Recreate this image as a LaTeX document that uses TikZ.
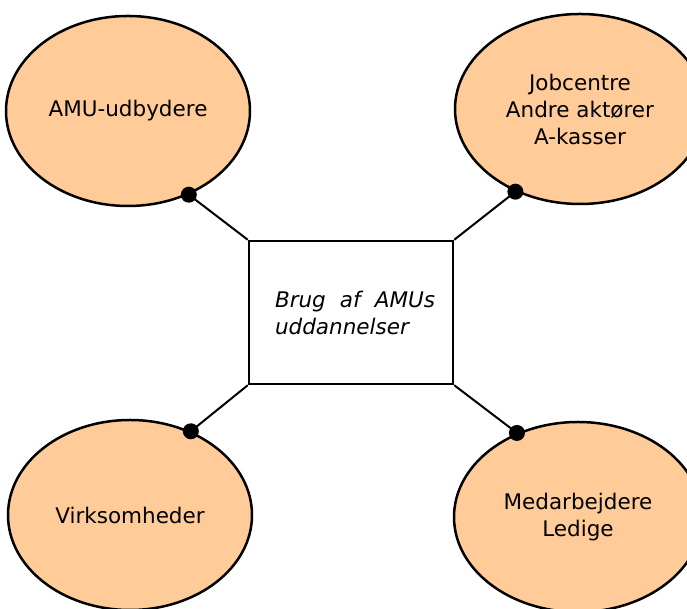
\documentclass[tikz,border=0pt]{standalone}
\usepackage{fontspec}
\setmainfont{DejaVu Sans}
\usetikzlibrary{shapes.geometric}
\definecolor{peach}{RGB}{255,204,153}
\tikzset{
  actor/.style={ellipse, draw, line width=2.5pt, fill=peach, minimum width=244pt, minimum height=190pt, inner sep=0pt, align=center, font=\fontsize{21.5}{27}\selectfont},
  link/.style={line width=2pt},
  knob/.style={circle, fill=black, minimum size=16pt, inner sep=0pt}
}
\begin{document}
\begin{tikzpicture}[x=1pt,y=1pt]
        \useasboundingbox (0,0) rectangle (687,609);
        \node[actor] (amu) at (128,498) {AMU-udbydere};
        \node[actor, minimum width=250pt] (job) at (580,500) {Jobcentre\\Andre aktører\\A-kasser};
        \node[actor] (virk) at (130,94) {Virksomheder};
        \node[actor, minimum width=248pt] (med) at (578,92) {Medarbejdere\\Ledige};
        \node[draw, line width=2.5pt, fill=white, minimum width=204pt, minimum height=143pt] (brug) at (351,296.5) {};
        \node[text width=160pt, align=justify, font=\fontsize{21.5}{27}\selectfont\itshape] (brugtxt) at (355,296.5) {Brug af AMUs uddannelser};
        \draw[link] (amu.-54) -- (brug.north west);
        \draw[link] (job.-128) -- (brug.north east);
        \draw[link] (virk.54) -- (brug.south west);
        \draw[link] (med.126) -- (brug.south east);
        \node[knob] (k1) at (amu.-54) {};
        \node[knob] (k2) at (job.-128) {};
        \node[knob] (k3) at (virk.54) {};
        \node[knob] (k4) at (med.126) {};
    \end{tikzpicture}
\end{document}
